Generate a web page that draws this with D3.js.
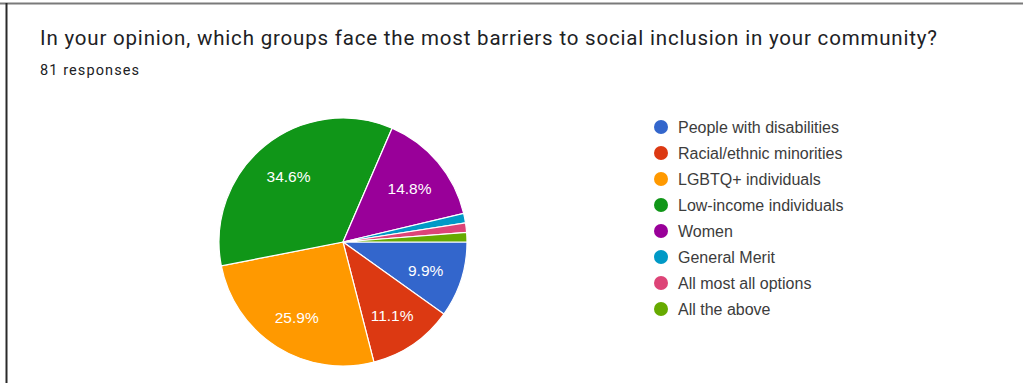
<!DOCTYPE html>
<html>
<head>
<meta charset="utf-8">
<script src="https://cdn.jsdelivr.net/npm/d3@7"></script>
<style>
  html, body { margin: 0; padding: 0; background: #fff; }
  svg { display: block; }
</style>
</head>
<body>
<svg id="chart" width="1023" height="383"></svg>
<script>
// Survey answers (response counts, 81 total)
const categories = [
  "People with disabilities",
  "Racial/ethnic minorities",
  "LGBTQ+ individuals",
  "Low-income individuals",
  "Women",
  "General Merit",
  "All most all options",
  "All the above"
];
const counts = [8, 9, 21, 28, 12, 1, 1, 1];
const colors = ["#3366cc", "#dc3912", "#ff9900", "#109618", "#990099", "#0099c6", "#dd4477", "#66aa00"];
const title = "In your opinion, which groups face the most barriers to social inclusion in your community?";
const subtitle = "81 responses";

const svg = d3.select("#chart");
const W = 1023, H = 383;

// card frame
svg.append("line").attr("x1", 0).attr("x2", W).attr("y1", 3.5).attr("y2", 3.5)
  .attr("stroke", "#7a7a7a").attr("stroke-width", 2);
svg.append("line").attr("x1", 6.5).attr("x2", 6.5).attr("y1", 3).attr("y2", H)
  .attr("stroke", "#2a2a2a").attr("stroke-width", 2);

svg.append("text").attr("x", 40).attr("y", 45)
  .attr("font-family", "Roboto, 'Noto Sans', sans-serif").attr("font-size", 20.5)
  .attr("textLength", 897).attr("lengthAdjust", "spacing")
  .attr("fill", "#202124").text(title);
svg.append("text").attr("x", 40).attr("y", 75)
  .attr("font-family", "Roboto, 'Noto Sans', sans-serif").attr("font-size", 14.5)
  .attr("textLength", 99).attr("lengthAdjust", "spacing")
  .attr("fill", "#202124").text(subtitle);

const total = d3.sum(counts);
const cx = 343, cy = 242, r = 124;

// slices run clockwise from 3 o'clock
const pie = d3.pie().sort(null).value(d => d)
  .startAngle(Math.PI / 2).endAngle(Math.PI / 2 + 2 * Math.PI);
const arcs = pie(counts);
const arc = d3.arc().innerRadius(0).outerRadius(r);
const labelArc = d3.arc().innerRadius(r * 0.7).outerRadius(r * 0.7);

const g = svg.append("g").attr("transform", `translate(${cx},${cy})`);
g.selectAll("path").data(arcs).join("path")
  .attr("d", arc)
  .attr("fill", (d, i) => colors[i])
  .attr("stroke", "#fff").attr("stroke-width", 1.2);

// percentage labels on the larger slices only
g.selectAll("text").data(arcs.filter(d => d.value / total >= 0.05)).join("text")
  .attr("transform", d => `translate(${labelArc.centroid(d)})`)
  .attr("text-anchor", "middle").attr("dy", "0.5em")
  .attr("font-family", "Arial, 'Liberation Sans', sans-serif").attr("font-size", 15.5)
  .attr("fill", "#fff")
  .text(d => (d.value / total * 100).toFixed(1) + "%");

// legend
const lg = svg.append("g").attr("transform", "translate(661,127)");
const rows = lg.selectAll("g").data(categories).join("g")
  .attr("transform", (d, i) => `translate(0,${i * 26})`);
rows.append("circle").attr("r", 7).attr("fill", (d, i) => colors[i]);
rows.append("text").attr("x", 17).attr("y", 5.5)
  .attr("font-family", "Arial, 'Liberation Sans', sans-serif").attr("font-size", 16)
  .attr("fill", "#3c3c3c").text(d => d);
</script>
</body>
</html>
